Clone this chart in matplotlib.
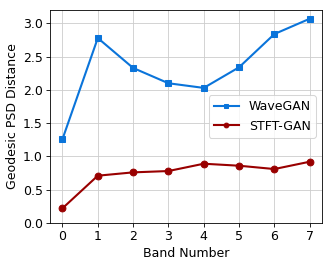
import numpy as np
import matplotlib.pyplot as plt

plt.rcParams['font.size'] = 12

# band index and distances per model
bands = [0, 1, 2, 3, 4, 5, 6, 7]
wavegan = [1.26, 2.78, 2.33, 2.10, 2.03, 2.34, 2.84, 3.07]
stftgan = [0.22, 0.71, 0.76, 0.78, 0.89, 0.86, 0.81, 0.92]

fig, ax = plt.subplots(figsize=(332 / 75, 266 / 75), dpi=75)
ax.plot(bands, wavegan, marker='s', color='#0a74da', markersize=6.5, linewidth=2, label='WaveGAN')
ax.plot(bands, stftgan, marker='o', color='#990000', markersize=6.5, linewidth=2, label='STFT-GAN')
ax.set_xticks(bands)
ax.set_ylim(0, 3.2)
ax.set_xlabel('Band Number')
ax.set_ylabel('Geodesic PSD Distance')
ax.grid(True, color='#cccccc')
ax.legend(loc='center right', markerscale=0.7)
fig.subplots_adjust(left=0.151, right=0.970, bottom=0.162, top=0.962)
fig.savefig('out.png')
